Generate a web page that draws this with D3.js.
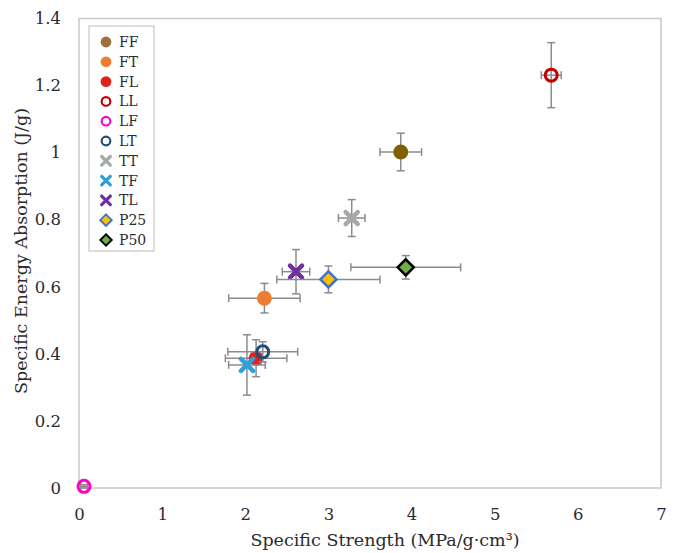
<!DOCTYPE html>
<html><head><meta charset="utf-8">
<script src="https://cdn.jsdelivr.net/npm/d3@7"></script>
<style>body{margin:0;background:#fff}svg{display:block}text{font-family:"DejaVu Serif","Liberation Serif",serif;fill:#2b2b2b}</style>
</head><body>
<script>
const names = ["FF","FT","FL","LL","LF","LT","TT","TF","TL","P25","P50"];
const xVals = [3.87, 2.23, 2.13, 5.68, 0.06, 2.21, 3.28, 2.02, 2.61, 3.00, 3.93];
const yVals = [1.002, 0.566, 0.387, 1.231, 0.005, 0.406, 0.805, 0.367, 0.645, 0.622, 0.658];
const xErr = [0.25, 0.43, 0.37, 0.12, 0.04, 0.42, 0.16, 0.22, 0.165, 0.62, 0.66];
const yErr = [0.056, 0.044, 0.055, 0.097, 0.005, 0.03, 0.055, 0.09, 0.066, 0.04, 0.035];
const shapes = ["dot","dot","dot","ring","ring","ring","x","x","x","diamond","diamond"];
const fills = ["#7f6000","#ed7d31","#e3211a","none","none","none","#a5aaa5","#2e9fd9","#7030a0","#ffc000","#70ad47"];
const strokes = ["none","none","none","#c00000","#ff00cc","#1f4e79","none","none","none","#4472c4","#000000"];
const legendFills = ["#9e7040","#ed7d31","#e3211a","none","none","none","#a5aaa5","#2e9fd9","#7030a0","#ffc000","#70ad47"];
const xTicks = [0,1,2,3,4,5,6,7];
const yTicks = [0,0.2,0.4,0.6,0.8,1,1.2,1.4];
const yTickLabels = ["0","0.2","0.4","0.6","0.8","1","1.2","1.4"];

const W=675,H=553;
const svg=d3.select("body").append("svg").attr("width",W).attr("height",H);
const x=d3.scaleLinear().domain([0,7]).range([79,661]);
const y=d3.scaleLinear().domain([0,1.4]).range([488,18.5]);

svg.append("rect").attr("x",79).attr("y",18.5).attr("width",582).attr("height",469.5)
  .attr("fill","none").attr("stroke","#c8c8c8").attr("stroke-width",1.5);

const xa=svg.append("g").attr("transform","translate(0,488)").call(d3.axisBottom(x).tickValues(xTicks).tickSize(0).tickPadding(20).tickFormat(d3.format("d")));
xa.select(".domain").remove();
xa.selectAll("text").style("font-size","16.5px").attr("fill","#2b2b2b").style("font-family","'DejaVu Serif',serif");
const ya=svg.append("g").attr("transform","translate(79,0)").call(d3.axisLeft(y).tickValues(yTicks).tickSize(0).tickPadding(18).tickFormat((d,i)=>yTickLabels[i]));
ya.select(".domain").remove();
ya.selectAll("text").style("font-size","16.5px").attr("fill","#2b2b2b").style("font-family","'DejaVu Serif',serif");

svg.append("text").attr("x",385).attr("y",546).attr("text-anchor","middle").style("font-size","17.5px").text("Specific Strength (MPa/g·cm³)");
svg.append("text").attr("transform","translate(27,251) rotate(-90)").attr("text-anchor","middle").style("font-size","17.5px").text("Specific Energy Absorption (J/g)");

function drawMarker(g,shape,fill,stroke,s){
  if(shape==="dot") g.append("circle").attr("r",7.5*s).attr("fill",fill);
  else if(shape==="ring") g.append("circle").attr("r",6*s).attr("fill","none").attr("stroke",stroke).attr("stroke-width",3*s);
  else if(shape==="x"){
    const a=6*s;
    g.append("path").attr("d",`M${-a},${-a}L${a},${a}M${-a},${a}L${a},${-a}`).attr("stroke",fill).attr("stroke-width",4.5*s).attr("stroke-linecap","round");
  } else if(shape==="diamond"){
    const a=8*s;
    g.append("path").attr("d",`M0,${-a}L${a},0L0,${a}L${-a},0Z`).attr("fill",fill).attr("stroke",stroke).attr("stroke-width",2.6*s).attr("stroke-linejoin","miter");
  }
}

const errCol="#8c8c8c", cap=4;
names.forEach((n,i)=>{
  const g=svg.append("g");
  const cx=x(xVals[i]), cy=y(yVals[i]);
  const x0=x(xVals[i]-xErr[i]), x1=x(xVals[i]+xErr[i]);
  const y0=y(yVals[i]-yErr[i]), y1=y(yVals[i]+yErr[i]);
  const e=g.append("g").attr("stroke",errCol).attr("stroke-width",1.5).attr("fill","none");
  e.append("line").attr("x1",x0).attr("x2",x1).attr("y1",cy).attr("y2",cy);
  e.append("line").attr("x1",x0).attr("x2",x0).attr("y1",cy-cap).attr("y2",cy+cap);
  e.append("line").attr("x1",x1).attr("x2",x1).attr("y1",cy-cap).attr("y2",cy+cap);
  e.append("line").attr("x1",cx).attr("x2",cx).attr("y1",y0).attr("y2",y1);
  e.append("line").attr("x1",cx-cap).attr("x2",cx+cap).attr("y1",y0).attr("y2",y0);
  e.append("line").attr("x1",cx-cap).attr("x2",cx+cap).attr("y1",y1).attr("y2",y1);
  const m=g.append("g").attr("transform",`translate(${cx},${cy})`);
  drawMarker(m,shapes[i],fills[i],strokes[i],1);
});

const lg=svg.append("g");
lg.append("rect").attr("x",89).attr("y",26).attr("width",65).attr("height",225).attr("fill","#fff").attr("stroke","#bdbdbd").attr("stroke-width",1);
names.forEach((n,i)=>{
  const yy=42+i*19.8;
  const m=lg.append("g").attr("transform",`translate(106,${yy})`);
  drawMarker(m,shapes[i],legendFills[i],strokes[i],0.72);
  lg.append("text").attr("x",119).attr("y",yy+5).style("font-size","14px").attr("fill","#2b2b2b").text(n);
});
</script>
</body></html>
